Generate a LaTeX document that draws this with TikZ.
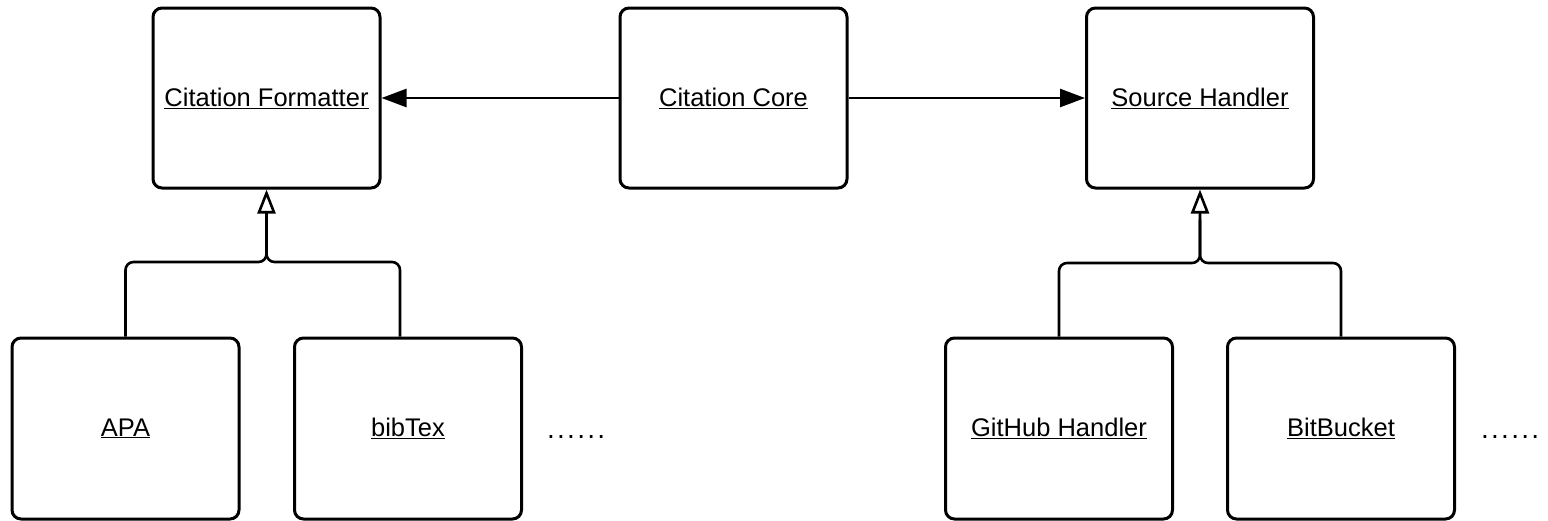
\documentclass[tikz,border=0pt]{standalone}
\usepackage{fontspec}
\setmainfont{Liberation Sans}
\usetikzlibrary{arrows.meta}
\begin{document}
\begin{tikzpicture}[x=1pt,y=-1pt,
  umlbox/.style={draw=black, line width=3pt, rounded corners=9pt, fill=white,
    minimum width=227pt, minimum height=180pt, inner sep=0pt,
    font=\fontsize{25.5}{30}\selectfont},
  assoc/.style={line width=2.6pt, -{Triangle[length=25pt,width=18pt]}},
  inherit/.style={line width=2.6pt, rounded corners=8pt},
  inhtip/.style={-{Triangle[open,length=24pt,width=18pt,fill=white]}},
  more/.style={font=\fontsize{28}{32}\selectfont\addfontfeature{LetterSpace=8}, inner sep=0pt, anchor=base west}
]
\useasboundingbox (0,0) rectangle (1548,520);

% top row: core and the two services it uses
\node[umlbox] (fmt)  at (266.5,98) {\underline{Citation Formatter}};
\node[umlbox] (core) at (733.5,98) {\underline{Citation Core}};
\node[umlbox] (src)  at (1200,98)  {\underline{Source Handler}};

% bottom row: concrete implementations
\node[umlbox, minimum height=181pt] (apa) at (125.5,428.5) {\underline{APA}};
\node[umlbox, minimum height=181pt] (bib) at (408,428.5)   {\underline{bibTex}};
\node[umlbox, minimum height=181pt] (gh)  at (1059,428.5)  {\underline{GitHub Handler}};
\node[umlbox, minimum height=181pt] (bb)  at (1341,428.5)  {\underline{BitBucket}};

\node[more] (fmtmore) at (547,438) {......};
\node[more] (srcmore) at (1481,438) {......};

% associations
\draw[assoc] (core.west) -- (fmt.east);
\draw[assoc] (core.east) -- (src.west);

% generalisation trees
\coordinate (fj) at (266.5,262);
\coordinate (sj) at (1200,263);
\draw[inherit, inhtip] (apa.north) |- (fj) -- (fmt.south);
\draw[inherit] ([xshift=-8pt]bib.north) |- (fj) -- ([yshift=-30pt]fmt.south);
\draw[inherit, inhtip] (gh.north) |- (sj) -- (src.south);
\draw[inherit] (bb.north) |- (sj) -- ([yshift=-30pt]src.south);
\end{tikzpicture}
\end{document}
